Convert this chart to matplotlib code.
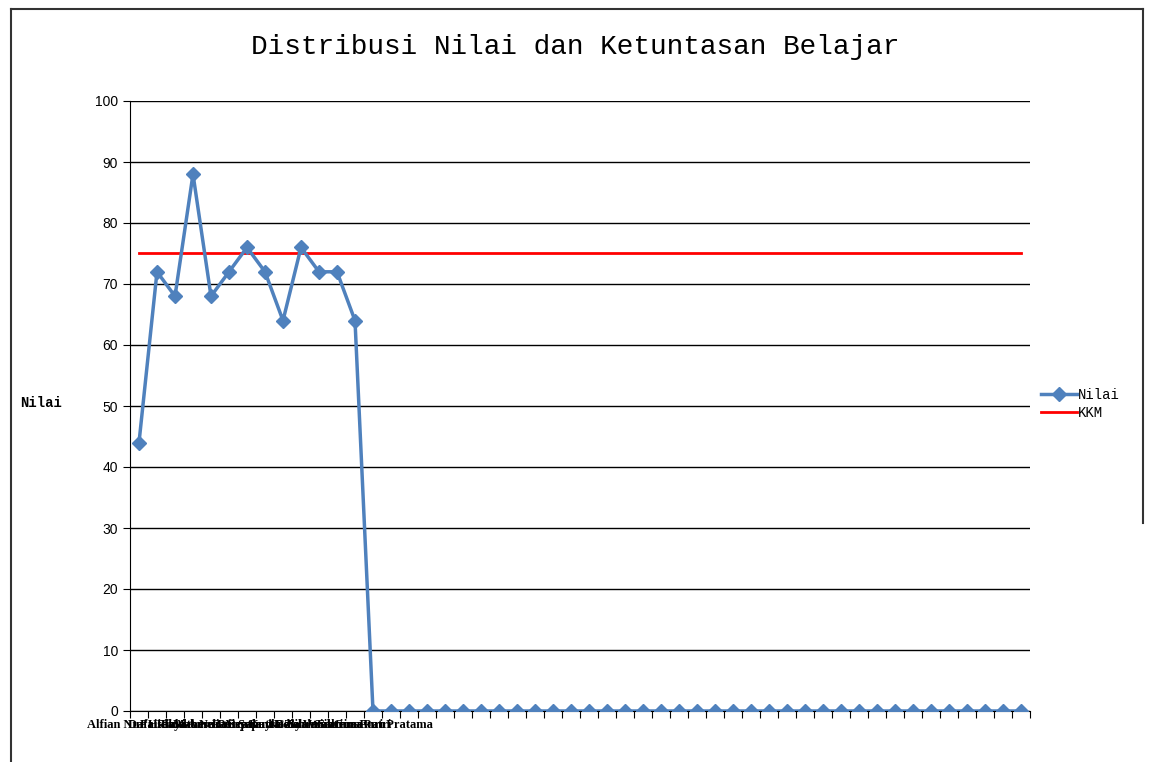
import matplotlib.pyplot as plt
from matplotlib.lines import Line2D

# nama siswa (hanya 14 pertama yang terisi)
names = ["Alfian Nur Hidayat", "Dafa Rizki", "Faisal Akbar", "Fina Amelia",
         "Mahesa Putra", "Nur Aisyah", "Rafi Saputra", "Septiani Dewi",
         "Kayla Zahra", "Nadia Vania", "Galih Wiratama", "Syahrul Gunawan",
         "Sabrina Putri", "Sabrina Puri Pratama"]
labels = names + [""] * 36

nilai = [44, 72, 68, 88, 68, 72, 76, 72, 64, 76, 72, 72, 64] + [0] * 37
kkm = [75] * 50

x = list(range(len(labels)))

fig = plt.figure(figsize=(11.52, 7.62), dpi=100)
ax = fig.add_axes([130 / 1152, 51 / 762, 900 / 1152, 610 / 762])

ax.plot(x, nilai, color="#4F81BD", lw=2.5, marker="D", markersize=7, label="Nilai", zorder=3)
ax.plot(x, kkm, color="#FF0000", lw=2, label="KKM", zorder=2)

ax.set_xlim(-0.5, len(x) - 0.5)
ax.set_ylim(0, 100)
ax.set_yticks(range(0, 101, 10))
ax.set_yticklabels([str(v) for v in range(0, 101, 10)], fontsize=10, family="Liberation Sans")
ax.yaxis.grid(True, color="black", lw=1)
ax.set_axisbelow(True)

# ticks di batas kategori, label di tengah kategori
ax.set_xticks([i - 0.5 for i in range(len(x) + 1)])
ax.set_xticklabels([])
ax.set_xticks(x, minor=True)
ax.set_xticklabels(labels, minor=True, fontsize=9, family="Liberation Serif", fontweight="bold")
ax.tick_params(axis="x", which="minor", length=0, pad=6)
ax.tick_params(axis="x", which="major", length=5, color="black")
ax.tick_params(axis="y", length=5, color="black")

for s in ["top", "right"]:
    ax.spines[s].set_visible(False)
ax.spines["left"].set_color("black")
ax.spines["bottom"].set_color("black")

fig.text(575 / 1152, 1 - 47 / 762, "Distribusi Nilai dan Ketuntasan Belajar",
         ha="center", va="center", fontsize=20, family="Liberation Mono")
fig.text(20 / 1152, 1 - 403 / 762, "Nilai", ha="left", va="center",
         fontsize=10, family="Liberation Mono", fontweight="bold")

handles = [Line2D([], [], color="#4F81BD", lw=2.5, marker="D", markersize=7),
           Line2D([], [], color="#FF0000", lw=2)]
fig.legend(handles, ["Nilai", "KKM"], loc="center left", bbox_to_anchor=(1028 / 1152, 1 - 404 / 762),
           frameon=False, prop={"family": "Liberation Mono", "size": 10},
           handlelength=2.6, handletextpad=0.1, labelspacing=0.3)

# bingkai area grafik
fig.add_artist(Line2D([11 / 1152, 1143 / 1152], [1 - 9 / 762, 1 - 9 / 762], color="#333333", lw=1.5))
fig.add_artist(Line2D([11 / 1152, 11 / 1152], [0, 1 - 9 / 762], color="#333333", lw=1.5))
fig.add_artist(Line2D([1143 / 1152, 1143 / 1152], [1 - 523 / 762, 1 - 9 / 762], color="#333333", lw=1.5))

fig.savefig("out.png", dpi=100)
